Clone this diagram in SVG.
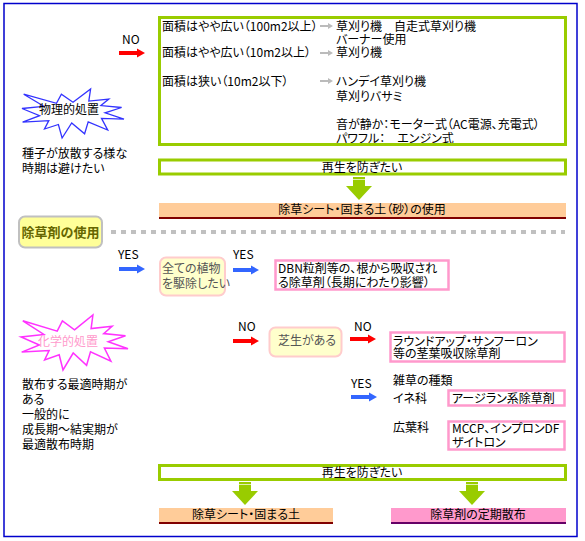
<svg xmlns="http://www.w3.org/2000/svg" xmlns:xlink="http://www.w3.org/1999/xlink" width="585" height="541" viewBox="0 0 585 541">
<style>
text{font-family:"Noto Sans CJK JP","Noto Sans",sans-serif;font-size:12px;fill:#000;font-feature-settings:"palt";}
.c{text-anchor:middle;}
.g{fill:#555;}
.gbox{fill:#fff;stroke:#99cc00;stroke-width:3;}
.pbox{fill:#fff;stroke:#ff99cc;stroke-width:2.5;}
.rbox{fill:#ffffcc;stroke:#ffcccc;stroke-width:2;}
.red{fill:#ff0000;}
.blue{fill:#3366ff;}
.gray{fill:#bbbbbb;}
.grn{fill:#99cc00;}
</style>
<defs>
<path id="ar" d="M0,-2 H18 V-4.5 L26,0 L18,4.5 V2 H0 Z"/>
<path id="ga" d="M0,-1 H8 V-3 L13,0 L8,3 V1 H0 Z"/>
<g id="da"><rect x="-6" y="0" width="12" height="9"/><polygon points="-13,9 13,9 0,23"/><rect x="-6" y="2" width="12" height="1" fill="#fff" opacity="0.7"/></g>
</defs>
<rect x="4" y="3.5" width="573" height="533" fill="#fff" stroke="#0000cc" stroke-width="1.5"/>

<g id="physical">
<polygon points="73,102.2 90.6,89 88.8,101.1 108.8,99.1 100.9,105.6 121.6,107.5 105.1,112.8 124,119.1 101.5,118.4 107.7,130 88.2,121.8 84.6,133.8 71.7,122.9 62.1,138 58.4,124.5 44.5,129 48.8,120.6 22.6,122.1 39.6,115.7 22,108.5 43.8,106.3 23.7,94.2 56.5,103.3 61.4,94.2" fill="#fff" stroke="#3333ff" stroke-width="1.3"/>
<text x="69" y="114" class="c">物理的処置</text>
<text x="22" y="158">種子が放散する様な</text>
<text x="22" y="173">時期は避けたい</text>
</g>

<g id="options">
<rect x="159.5" y="17.5" width="406" height="127" class="gbox"/>
<text x="162" y="31">面積はやや広い（100m2以上）</text>
<text x="162" y="57">面積はやや広い（10m2以上）</text>
<text x="162" y="86">面積は狭い（10m2以下）</text>
<text x="336" y="31">草刈り機　自走式草刈り機</text>
<text x="336" y="44">バーナー使用</text>
<text x="336" y="57">草刈り機</text>
<text x="336" y="86">ハンデイ草刈り機</text>
<text x="336" y="101">草刈りバサミ</text>
<text x="336" y="129">音が静か：モーター式（AC電源、充電式）</text>
<text x="336" y="143">パワフル：　エンジン式</text>
<rect x="159.5" y="17.5" width="406" height="127" fill="none" stroke="#99cc00" stroke-width="3"/>
</g>

<g id="regen1">
<rect x="159.5" y="160" width="406" height="14" class="gbox"/>
<text x="362" y="171.5" class="c">再生を防ぎたい</text>
</g>

<g id="sheet1">
<rect x="159" y="203" width="407" height="14" fill="#ffcc99"/>
<line x1="159" y1="218" x2="566" y2="218" stroke="#800000" stroke-width="2"/>
<text x="362" y="214" class="c">除草シート・固まる土（砂）の使用</text>
</g>

<g id="herbicide">
<rect x="19" y="216.5" width="83" height="31" rx="6" fill="#ffff99" stroke="#c0c0c0" stroke-width="2"/>
<text x="60.5" y="237" class="c" style="font-weight:bold;font-size:13px;fill:#666600">除草剤の使用</text>
</g>

<g id="allplants">
<rect x="160" y="257.5" width="65" height="38" rx="6" class="rbox"/>
<text x="162" y="273" class="g">全ての植物</text>
<text x="162" y="288" class="g">を駆除したい</text>
</g>

<g id="dbn">
<rect x="275.5" y="260.5" width="173" height="29" class="pbox"/>
<text x="278" y="273">DBN粒剤等の、根から吸収され</text>
<text x="278" y="287">る除草剤（長期にわたり影響）</text>
</g>

<g id="chemical">
<polygon points="74.5,329.8 92.9,315 91.1,328.6 112.1,326.3 103.7,333.6 125.5,335.7 108.2,341.7 128,348.8 104.4,348 110.9,361.1 90.5,351.8 86.6,365.3 73.2,353 63,370 59.2,354.8 44.6,359.9 49.1,350.5 21.7,352.1 39.4,345 21,336.9 43.9,334.4 22.8,320.8 57.2,331.1 62.4,320.8" fill="#fff" stroke="#ff33ff" stroke-width="1.5"/>
<text x="68" y="346" class="c" style="fill:#ff99cc">化学的処置</text>
<text x="22" y="389">散布する最適時期が</text>
<text x="22" y="404">ある</text>
<text x="22" y="419">一般的に</text>
<text x="22" y="434">成長期～結実期が</text>
<text x="22" y="449">最適散布時期</text>
</g>

<g id="lawn">
<rect x="269.5" y="327.5" width="72" height="29" rx="6" class="rbox"/>
<text x="278" y="345" class="g">芝生がある</text>
</g>

<g id="roundup">
<rect x="390.5" y="332.5" width="174" height="29" class="pbox"/>
<text x="393" y="346">ラウンドアップ・サンフーロン</text>
<text x="393" y="358">等の茎葉吸収除草剤</text>
</g>

<g id="weedtype">
<text x="393" y="385">雑草の種類</text>
<text x="393" y="403">イネ科</text>
<text x="393" y="432">広葉科</text>
</g>

<g id="asulam">
<rect x="448.5" y="390.5" width="116" height="15" class="pbox"/>
<text x="452" y="403">アージラン系除草剤</text>
</g>

<g id="mccp">
<rect x="448.5" y="421.5" width="116" height="28" class="pbox"/>
<text x="452" y="433">MCCP、インプロンDF</text>
<text x="452" y="447">ザイトロン</text>
</g>

<g id="regen2">
<rect x="159.5" y="465.5" width="406" height="14" class="gbox"/>
<text x="362" y="477" class="c">再生を防ぎたい</text>
</g>

<g id="sheet2">
<rect x="159" y="508" width="174" height="14" fill="#ffcc99"/>
<line x1="159" y1="523" x2="333" y2="523" stroke="#800000" stroke-width="2"/>
<text x="246" y="519" class="c">除草シート・固まる土</text>
</g>

<g id="periodic">
<rect x="391" y="508" width="175" height="14" fill="#ff99cc"/>
<line x1="391" y1="523" x2="566" y2="523" stroke="#660066" stroke-width="2"/>
<text x="478" y="519" class="c">除草剤の定期散布</text>
</g>

<g id="connectors">
<use xlink:href="#ar" x="119" y="53" class="red"/>
<use xlink:href="#ga" x="320" y="26" class="gray"/>
<use xlink:href="#ga" x="320" y="53" class="gray"/>
<use xlink:href="#ga" x="320" y="81" class="gray"/>
<use xlink:href="#da" x="359" y="177" class="grn"/>
<line x1="111" y1="232" x2="565" y2="232" stroke="#c0c0c0" stroke-width="4" stroke-dasharray="5 5"/>
<use xlink:href="#ar" x="119" y="269" class="blue"/>
<use xlink:href="#ar" x="233" y="270" class="blue"/>
<use xlink:href="#ar" x="233" y="341" class="red"/>
<use xlink:href="#ar" x="350" y="339" class="red"/>
<use xlink:href="#ar" x="351" y="397" class="blue"/>
<use xlink:href="#da" x="245" y="482" class="grn"/>
<use xlink:href="#da" x="472" y="482" class="grn"/>
<text x="122" y="44">NO</text>
<text x="118" y="259">YES</text>
<text x="233" y="259">YES</text>
<text x="238" y="331">NO</text>
<text x="354" y="331">NO</text>
<text x="351" y="388">YES</text>
</g>
</svg>
